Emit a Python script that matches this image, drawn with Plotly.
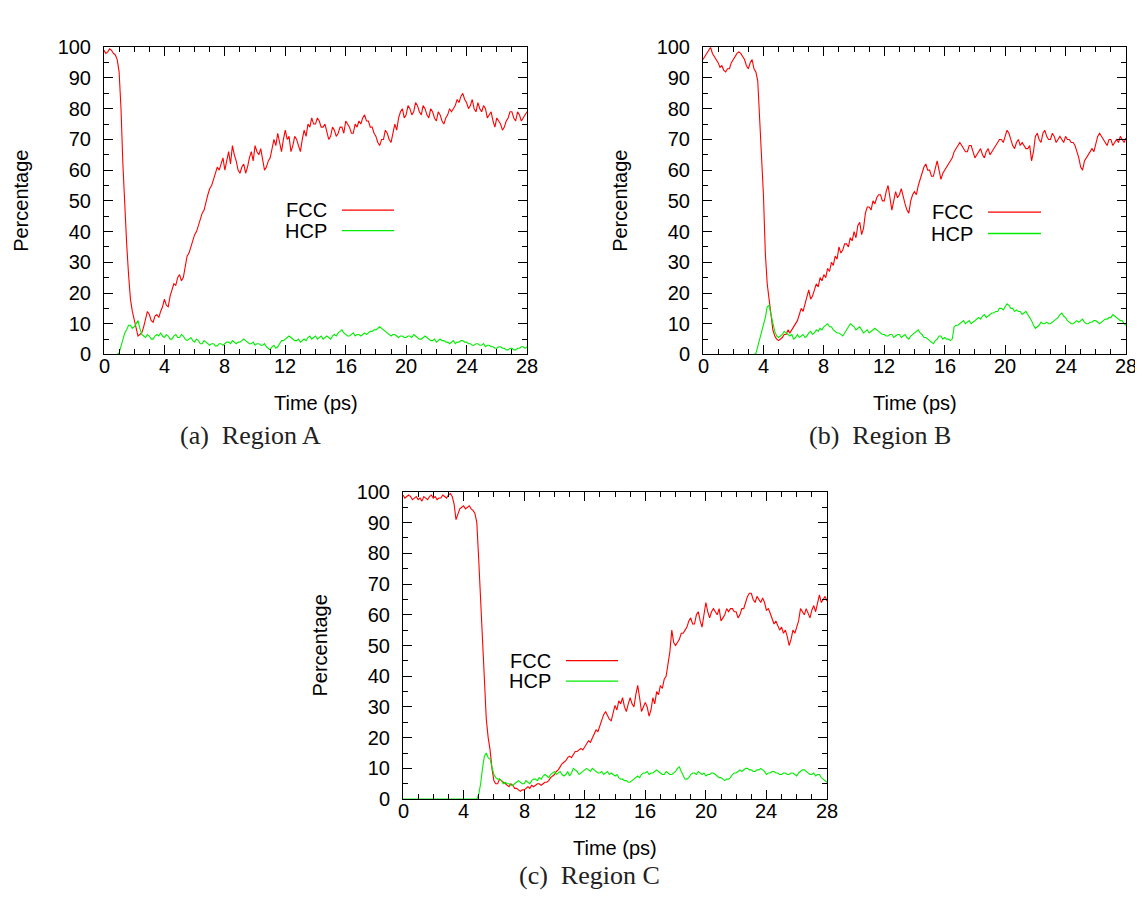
import plotly.graph_objects as go

# ---------------- data (0.125 ps steps) ----------------
TIME_PS = [
    0, 0.125, 0.25, 0.375, 0.5, 0.625, 0.75, 0.875,
    1, 1.125, 1.25, 1.375, 1.5, 1.625, 1.75, 1.875,
    2, 2.125, 2.25, 2.375, 2.5, 2.625, 2.75, 2.875,
    3, 3.125, 3.25, 3.375, 3.5, 3.625, 3.75, 3.875,
    4, 4.125, 4.25, 4.375, 4.5, 4.625, 4.75, 4.875,
    5, 5.125, 5.25, 5.375, 5.5, 5.625, 5.75, 5.875,
    6, 6.125, 6.25, 6.375, 6.5, 6.625, 6.75, 6.875,
    7, 7.125, 7.25, 7.375, 7.5, 7.625, 7.75, 7.875,
    8, 8.125, 8.25, 8.375, 8.5, 8.625, 8.75, 8.875,
    9, 9.125, 9.25, 9.375, 9.5, 9.625, 9.75, 9.875,
    10, 10.125, 10.25, 10.375, 10.5, 10.625, 10.75, 10.875,
    11, 11.125, 11.25, 11.375, 11.5, 11.625, 11.75, 11.875,
    12, 12.125, 12.25, 12.375, 12.5, 12.625, 12.75, 12.875,
    13, 13.125, 13.25, 13.375, 13.5, 13.625, 13.75, 13.875,
    14, 14.125, 14.25, 14.375, 14.5, 14.625, 14.75, 14.875,
    15, 15.125, 15.25, 15.375, 15.5, 15.625, 15.75, 15.875,
    16, 16.125, 16.25, 16.375, 16.5, 16.625, 16.75, 16.875,
    17, 17.125, 17.25, 17.375, 17.5, 17.625, 17.75, 17.875,
    18, 18.125, 18.25, 18.375, 18.5, 18.625, 18.75, 18.875,
    19, 19.125, 19.25, 19.375, 19.5, 19.625, 19.75, 19.875,
    20, 20.125, 20.25, 20.375, 20.5, 20.625, 20.75, 20.875,
    21, 21.125, 21.25, 21.375, 21.5, 21.625, 21.75, 21.875,
    22, 22.125, 22.25, 22.375, 22.5, 22.625, 22.75, 22.875,
    23, 23.125, 23.25, 23.375, 23.5, 23.625, 23.75, 23.875,
    24, 24.125, 24.25, 24.375, 24.5, 24.625, 24.75, 24.875,
    25, 25.125, 25.25, 25.375, 25.5, 25.625, 25.75, 25.875,
    26, 26.125, 26.25, 26.375, 26.5, 26.625, 26.75, 26.875,
    27, 27.125, 27.25, 27.375, 27.5, 27.625, 27.75, 27.875,
    28,
]

A_FCC = [
    99, 98, 98.5, 99.5, 99, 98, 97.5, 96,
    92, 80, 62, 48, 36, 26, 18, 14,
    11, 8, 6, 6.5, 7, 9, 12, 14,
    13, 11, 10.5, 12.5, 13, 12, 14, 15.5,
    18, 16, 15.5, 19, 21, 23, 22.5, 25,
    26, 24, 25, 29, 32, 33, 35, 37,
    39, 40, 42, 44.5, 46, 47, 50, 52,
    54, 55, 57, 59, 61, 60, 62, 64,
    60, 63, 66, 62, 68, 65, 63, 60,
    59, 61, 62, 59, 61, 64, 66, 63,
    68, 66, 65, 67, 63, 60, 61, 63,
    64, 67, 70, 68, 72, 69, 66, 70,
    73, 70, 71, 66, 68, 71, 70, 68,
    66, 70, 73, 71, 75, 74, 77, 75,
    75, 77, 76, 74, 74, 75, 72, 70,
    71, 74, 73, 71, 72, 74, 74, 72,
    76, 75, 74, 72, 72, 75, 74, 76,
    75, 77, 78, 76, 76, 74, 74, 72,
    71, 69, 68, 70, 70, 73, 72, 70,
    69, 72, 75, 73, 77, 79, 80, 77,
    78, 81, 80, 78, 79, 82, 81, 79,
    78, 81, 80, 78, 77, 80, 79, 77,
    76, 79, 78, 76, 75, 77, 78, 80,
    79, 80, 81, 83, 82, 84, 85, 83,
    82, 80, 81, 83, 80, 79, 82, 80,
    79, 81, 80, 77, 78, 79, 76, 74,
    77, 76, 75, 73, 74, 76, 77, 79,
    79, 77, 76, 79, 78, 76, 77, 78,
    79,
]
A_HCP = [
    0, 0, 0, 0, 0, 0, 0, 0,
    0.5, 2.5, 4.5, 7, 8, 9.5, 9.5, 8.5,
    9, 10, 11, 8.5, 6.5, 6, 5.5, 6.5,
    6, 5, 5, 6, 6.5, 6, 7, 6,
    5.5, 6.5, 6, 5, 5, 6, 6.5, 5.5,
    5.5, 6.5, 6, 5, 4.5, 5, 5.5, 4.5,
    4, 5, 4.5, 3.5, 3.5, 4.5, 4, 3.5,
    3, 3.5, 3.5, 2.8, 2.8, 3.5, 3.5, 3,
    3.5, 4, 4, 3.5, 4.5, 4, 3.5, 4,
    4, 4.5, 5, 4.5, 4, 3.5, 3.5, 4,
    3, 3.5, 3.5, 3, 3, 3.5, 2.5, 2,
    1.5, 2.5, 3, 2, 2.5, 3.5, 4.5, 4.5,
    5, 5.5, 6, 5.5, 5, 4.5, 4.5, 5,
    4, 4.5, 5, 4.5, 5.5, 6, 5, 5.5,
    6, 5, 5.5, 6, 5, 5.5, 6, 5.5,
    5, 6, 6.5, 6, 7, 7.5, 8, 7,
    6.5, 6, 6, 6.5, 7, 6, 6.5, 6.5,
    6, 6.5, 7, 6.5, 7, 7.5, 7.5, 8,
    8, 8.5, 9, 8.5, 8, 7.5, 7, 6.5,
    6, 6.5, 6.5, 6, 5.5, 6, 6, 5.5,
    5.5, 6, 6, 5.5, 6.5, 6, 5.5, 5,
    5, 5.5, 6, 5.5, 5, 4.5, 4.5, 5,
    4, 4.5, 5, 4.5, 4.5, 4, 4, 3.5,
    4, 4.5, 3.5, 4, 4, 4.5, 4.5, 4,
    4, 3.5, 3.5, 3, 3, 3.5, 3.5, 3,
    3, 3.5, 2.5, 3, 3, 2.5, 2.5, 2,
    2, 2.5, 2.5, 2, 2, 1.5, 1.5, 2,
    2, 1.5, 1.5, 2, 2, 2.5, 2.5, 2,
    2.5,
]

B_FCC = [
    96, 97, 98, 99, 100, 98, 97, 96,
    95, 93.5, 94, 92.5, 92, 93, 93, 95,
    96, 97, 98, 98.5, 98, 97, 96, 94,
    93, 95, 96, 93, 92, 89, 78, 66,
    52, 33, 23, 18, 12, 8, 6, 5,
    4.5, 5, 5.5, 6.5, 6.5, 8, 7, 8,
    9, 10, 11, 13, 15, 14, 16.5, 18,
    21, 18, 19, 21, 23, 22, 25, 24,
    26, 25, 28, 27, 30, 29, 32, 31,
    35, 33, 34, 36, 36, 35, 38, 37,
    40, 38, 42, 43, 39, 41, 46, 48,
    48, 47, 50, 49, 51, 52, 52, 50,
    50, 53, 55, 51, 47, 50, 53, 51,
    52, 54, 51, 49, 47, 46, 50, 52,
    53, 52, 55, 57, 59, 61, 62, 60,
    60, 58, 58, 61, 63, 60, 57, 59,
    60, 61, 62, 63, 64, 66, 67, 68,
    69, 68, 67, 66, 66, 68, 68, 66,
    64, 65, 66, 67, 65, 64, 66, 67,
    65, 66, 67, 68, 69, 70, 70, 69,
    71, 73, 72, 70, 68, 67, 69, 70,
    68, 69, 68, 67, 67, 68, 63, 66,
    71, 72, 70, 69, 72, 73, 71, 70,
    70, 72, 71, 69, 70, 71, 70, 69,
    71, 70, 70, 69, 69, 68, 66, 64,
    61, 60, 63, 64, 65, 66, 67, 66,
    69, 71, 72, 71, 70, 69, 68, 70,
    70, 68, 69, 70, 69, 71, 70, 69,
    70.5,
]
B_HCP = [
    0, 0, 0, 0, 0, 0, 0, 0,
    0, 0, 0, 0, 0, 0, 0, 0,
    0, 0, 0, 0, 0, 0, 0, 0,
    0, 0, 0, 0, 0.3, 2.5, 5, 7,
    9, 12, 15.5, 16, 13, 10, 7.5, 6,
    5.5, 6, 6.5, 7.5, 7, 6.5, 6, 6.5,
    5, 5.5, 6.5, 5.5, 6, 6.5, 5.5, 6,
    7, 7.5, 6.5, 7, 8, 7.5, 8.5, 8,
    9, 9.5, 10, 9, 9, 8, 7.5, 7,
    7, 6.5, 6, 7, 8, 9, 10, 9.5,
    9, 8, 8.5, 9, 8, 7, 7.5, 8,
    7, 7.5, 8, 8.5, 8, 7.5, 7, 6.5,
    6.5, 6, 6, 6.5, 6.5, 5.5, 6, 6.5,
    6.5, 5.5, 6, 6.5, 5.5, 5, 6, 6.5,
    7, 7.5, 8, 7, 6.5, 5.5, 5.5, 5,
    4.5, 4, 3.5, 4.5, 5, 6, 6, 5,
    5.5, 5, 5, 4.5, 5, 9, 9.5, 9.5,
    10, 10.5, 11, 10, 10.5, 11, 10, 10.5,
    11, 11.5, 12, 11.5, 12.5, 13, 12, 12.5,
    13, 13.5, 13.5, 14, 14, 15, 15, 14.5,
    15.5, 16.5, 16, 15, 15, 14, 14.5, 14,
    14, 13, 13.5, 14, 13, 12, 11, 9.5,
    8.5, 9, 9.5, 10.5, 10, 10, 10.5, 10,
    10, 10.5, 11, 11.5, 12, 13, 13.5, 12.5,
    12, 11, 10.5, 10, 10, 10.5, 11, 10.5,
    11, 11.5, 10.5, 10, 10, 10.5, 10.5, 11,
    11, 10.5, 10, 10.5, 11, 11.5, 11.5, 12,
    12, 13, 12.5, 12, 11.5, 11, 11, 10,
    9.5,
]

C_FCC = [
    99, 98, 98.5, 99, 98.5, 97.5, 98, 98.5,
    97.5, 98, 97, 98.5, 98, 97.5, 98.5, 99,
    98, 98.5, 97.5, 98, 98, 99, 98.5, 98,
    99, 99.5, 98.5, 96, 91, 92.5, 94.5, 95,
    95.5, 94.5, 95, 95.5, 94.5, 94, 93, 90,
    78, 64, 50, 38, 26, 20, 16, 10,
    6, 5, 5, 6.5, 6, 5.5, 5, 4.5,
    4, 5, 4.5, 3.5, 3.5, 3, 2.5, 3,
    3, 3.5, 4, 3.5, 4.5, 4, 4.5, 5,
    5, 4.5, 5, 5.5, 5.5, 6, 7, 7.5,
    8, 9, 9.5, 10.5, 11.5, 12, 12.5, 13.5,
    14, 13.5, 14.5, 15.5, 15.5, 16, 16.5, 16,
    17, 18, 19, 18.5, 20, 21.5, 22.5, 22,
    24, 26, 27.5, 28.5, 27, 26, 25.5, 28,
    30.5, 29, 32, 31, 33, 30, 28.5, 31,
    33, 31, 30, 34, 37, 33, 28.5, 30,
    31.5, 30, 27, 29, 33, 31, 35, 34,
    37, 36, 39, 40, 44, 48, 55, 51,
    50, 51, 52, 54, 54, 55, 56, 58,
    59, 57, 57, 60, 61, 58, 56, 60,
    64, 61, 59, 61, 62, 61, 60, 62,
    58, 59, 60, 62, 61, 62, 62, 61,
    61, 59, 60, 62, 62, 64, 66, 67,
    67, 65, 64, 66, 65, 64, 65.5, 64,
    61.5, 62, 60.5, 59, 57, 58, 56.5, 55,
    56, 54, 55, 53, 50, 52, 55, 54,
    56, 58, 62, 61, 60, 62, 60.5, 59,
    61.5, 63, 61, 64, 66.5, 64, 65, 66,
    64.5,
]
C_HCP = [
    0, 0, 0, 0, 0, 0, 0, 0,
    0, 0, 0, 0, 0, 0, 0, 0,
    0, 0, 0, 0, 0, 0, 0, 0,
    0, 0, 0, 0, 0, 0, 0, 0,
    0, 0, 0, 0, 0, 0, 0, 0,
    1.5, 5, 10, 14, 15, 13.5, 13, 10,
    8, 7, 6.5, 6.5, 6, 5, 5.5, 5,
    5, 4.5, 4.5, 5, 5.5, 6, 5.5, 5,
    5, 6, 5.5, 5, 6, 6.5, 6.5, 6,
    7, 6.5, 7.5, 8, 7.5, 7, 8, 8.5,
    9, 8, 8.5, 9, 8, 7.5, 8, 9,
    7.5, 8.5, 10, 9.5, 9, 8, 8.5, 9,
    9.5, 10, 9.5, 9, 10, 9.5, 9, 8.5,
    8.5, 9, 8, 8.5, 9, 8, 8.5, 8,
    7.5, 8, 7, 6.5, 6.5, 6, 6, 5.5,
    5.5, 6, 6.5, 7, 7.5, 7, 8, 8.5,
    8.5, 9, 8, 8.5, 8.5, 9, 9.5, 9,
    8.5, 8, 8, 9, 8.5, 8, 8, 8.5,
    9, 10, 10.5, 9, 7.5, 6.5, 6.5, 7,
    8, 8.5, 8.5, 8, 9, 8.5, 8, 8.5,
    7.5, 8, 8, 8.5, 8.5, 8, 7.5, 7,
    7, 6.5, 6, 6.5, 6.5, 7, 8, 8.5,
    8.5, 9, 9.5, 9, 9.5, 10, 10, 9.5,
    9.5, 9, 9, 9.5, 9.5, 10, 9.5, 9,
    8, 8.5, 8.5, 9, 9, 8.5, 8.5, 8,
    8, 8.5, 8.5, 8, 8, 8.5, 8.5, 8,
    7.5, 8.5, 9, 9.5, 9.5, 9, 8.5, 8,
    8, 8.5, 7.5, 8, 8, 7, 6.5, 6,
    5.5,
]

for _s in (A_FCC, A_HCP, B_FCC, B_HCP, C_FCC, C_HCP):
    assert len(_s) == len(TIME_PS), len(_s)

X_TICKS = [0, 4, 8, 12, 16, 20, 24, 28]
Y_TICKS = [0, 10, 20, 30, 40, 50, 60, 70, 80, 90, 100]
SERIES_NAMES = ["FCC", "HCP"]
CAPTIONS = ["(a)  Region A", "(b)  Region B", "(c)  Region C"]
X_TITLE = "Time (ps)"
Y_TITLE = "Percentage"

# ---------------- layout / styling ----------------
# The page body has an 8px default margin, so the figure is drawn 8px
# smaller and every target pixel position is shifted by that margin.
PAGE_W, PAGE_H = 1143, 900
OFF = 8
W, H = PAGE_W - OFF, PAGE_H - 2 * OFF
FONT = "Liberation Sans, Arial, Helvetica, sans-serif"
SERIF = "Liberation Serif, DejaVu Serif, serif"
RED = "#ff0000"
GREEN = "#00ee00"
FS = 20
LW = 1.1


def px(x):
    return (x - OFF) / W


def py(y):
    return 1 - (y - OFF) / H


panels = [
    dict(x0=104, x1=527, y0=37, y1=352, fcc=A_FCC, hcp=A_HCP,
         leg=(329, 342, 394, 204, 225), cap=(250, 435)),
    dict(x0=703, x1=1126, y0=37, y1=352, fcc=B_FCC, hcp=B_HCP,
         leg=(975, 988, 1041, 206, 228), cap=(880, 435)),
    dict(x0=403, x1=827, y0=493, y1=808, fcc=C_FCC, hcp=C_HCP,
         leg=(553, 566, 618, 666, 687), cap=(589, 886)),
]

fig = go.Figure()
annotations = []
shapes = []

for i, p in enumerate(panels):
    n = "" if i == 0 else str(i + 1)
    xa, ya = "x" + n, "y" + n
    fig.add_trace(go.Scatter(x=TIME_PS, y=p["fcc"], mode="lines",
                             line=dict(color=RED, width=LW),
                             xaxis=xa, yaxis=ya, showlegend=False,
                             name=SERIES_NAMES[0]))
    fig.add_trace(go.Scatter(x=TIME_PS, y=p["hcp"], mode="lines",
                             line=dict(color=GREEN, width=LW),
                             xaxis=xa, yaxis=ya, showlegend=False,
                             name=SERIES_NAMES[1]))

    axis_common = dict(
        showline=True, linecolor="black", linewidth=1, mirror="allticks",
        ticks="inside", ticklen=9, tickwidth=1, tickcolor="black",
        showgrid=False, zeroline=False, fixedrange=True,
        tickfont=dict(family=FONT, size=FS, color="black"),
    )
    fig.layout["xaxis" + n] = dict(
        axis_common, domain=[px(p["x0"]), px(p["x1"])], anchor=ya,
        range=[0, 28], tickmode="array", tickvals=X_TICKS,
        showticklabels=False,
        minor=dict(ticks="inside", ticklen=5, tickwidth=1,
                   tickcolor="black", dtick=1, showgrid=False),
    )
    fig.layout["yaxis" + n] = dict(
        axis_common, domain=[py(p["y1"]), py(p["y0"])], anchor=xa,
        range=[0, 100], tickmode="array", tickvals=Y_TICKS,
        ticktext=[str(v) for v in Y_TICKS], ticklabelstandoff=8,
        minor=dict(ticks="inside", ticklen=5, tickwidth=1,
                   tickcolor="black", dtick=5, showgrid=False),
    )

    # x tick labels placed at the axis' own tick values, just under the frame
    for v in X_TICKS:
        annotations.append(dict(text=str(v), x=v, xref=xa,
                                y=py(p["y1"] + 12), yref="paper",
                                showarrow=False, xanchor="center",
                                yanchor="middle",
                                font=dict(family=FONT, size=FS,
                                          color="black")))

    cx = (p["x0"] + p["x1"]) / 2
    cy = (p["y0"] + p["y1"]) / 2
    annotations.append(dict(text=X_TITLE, x=px(cx), y=py(p["y1"] + 50),
                            xref="paper", yref="paper", showarrow=False,
                            xanchor="center", yanchor="middle",
                            font=dict(family=FONT, size=FS, color="black")))
    annotations.append(dict(text=Y_TITLE, x=px(p["x0"] - 83), y=py(cy),
                            xref="paper", yref="paper", showarrow=False,
                            textangle=-90, xanchor="center", yanchor="middle",
                            font=dict(family=FONT, size=FS, color="black")))
    annotations.append(dict(text=CAPTIONS[i], x=px(p["cap"][0]),
                            y=py(p["cap"][1]), xref="paper", yref="paper",
                            showarrow=False, xanchor="center",
                            yanchor="middle",
                            font=dict(family=SERIF, size=26, color="#222222")))

    tx, lx0, lx1, ly1, ly2 = p["leg"]
    for name, yy, col in ((SERIES_NAMES[0], ly1, RED),
                          (SERIES_NAMES[1], ly2, GREEN)):
        annotations.append(dict(text=name, x=px(tx), y=py(yy),
                                xref="paper", yref="paper", showarrow=False,
                                xanchor="right", yanchor="middle",
                                font=dict(family=FONT, size=FS,
                                          color="black")))
        shapes.append(dict(type="line", xref="paper", yref="paper",
                           x0=px(lx0), x1=px(lx1), y0=py(yy), y1=py(yy),
                           line=dict(color=col, width=1.3)))

fig.update_layout(
    width=W, height=H, margin=dict(l=0, r=0, t=0, b=0, pad=0),
    paper_bgcolor="white", plot_bgcolor="white",
    annotations=annotations, shapes=shapes, showlegend=False,
)

fig.write_html("out.html", config={"displayModeBar": False})
